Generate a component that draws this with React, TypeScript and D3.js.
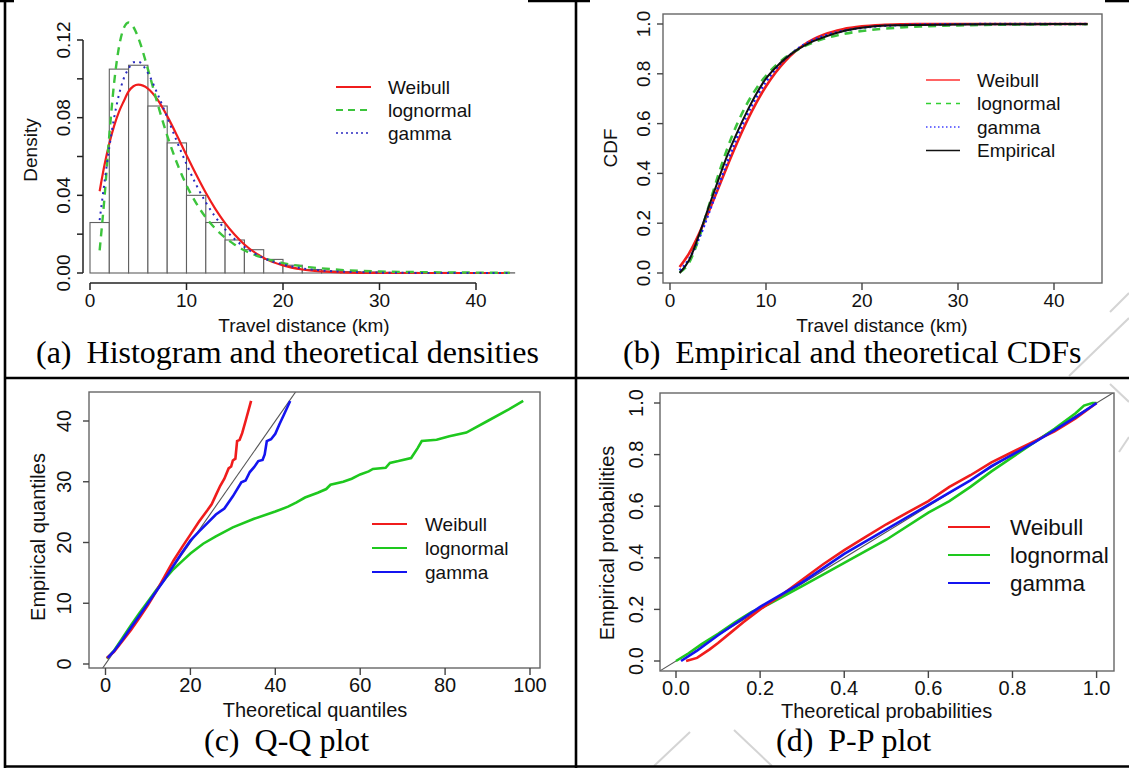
import React from "react";
import * as d3 from "d3";

const SANS = "'Liberation Sans', Arial, Helvetica, sans-serif";
const SERIF = "'Liberation Serif', 'Times New Roman', serif";

// ---------- (a) histogram + densities ----------
const histBreaks = [0, 2, 4, 6, 8, 10, 12, 14, 16, 18, 20, 22, 24, 26, 28, 30, 32, 34, 36, 38, 40, 42, 44];
const histDensity = [0.026, 0.105, 0.107, 0.086, 0.067, 0.040, 0.026, 0.017, 0.012, 0.007, 0.004, 0.0018, 0.001, 0.0007, 0.0005, 0.0003, 0.0003, 0.0002, 0.0003, 0.0001, 0.0001, 0.0001];
const densX = [1, 1.5, 2, 2.5, 3, 3.5, 4, 4.5, 5, 6, 7, 8, 9, 10, 11, 12, 13, 14, 15, 16, 18, 20, 22, 24, 26, 28, 30, 35, 40, 43.5];
const densWeibull = [0.0421, 0.0556, 0.0667, 0.0758, 0.0830, 0.0885, 0.0935, 0.0962, 0.0970, 0.0950, 0.0893, 0.0808, 0.0710, 0.0607, 0.0507, 0.0413, 0.0329, 0.0257, 0.0197, 0.0147, 0.0078, 0.0039, 0.0018, 0.0008, 0.0003, 0.0001, 0.00004, 0, 0, 0];
const densLognormal = [0.0117, 0.0388, 0.0708, 0.0979, 0.1163, 0.1261, 0.1290, 0.1267, 0.1212, 0.1050, 0.0872, 0.0708, 0.0568, 0.0452, 0.0360, 0.0286, 0.0228, 0.0182, 0.0146, 0.0117, 0.0077, 0.0051, 0.0034, 0.0024, 0.0016, 0.0011, 0.0008, 0.0004, 0.0002, 0.0001];
const densGamma = [0.0272, 0.0466, 0.0647, 0.0799, 0.0918, 0.1002, 0.1053, 0.1085, 0.1088, 0.1030, 0.0922, 0.0802, 0.0678, 0.0561, 0.0455, 0.0364, 0.0288, 0.0225, 0.0174, 0.0134, 0.0077, 0.0044, 0.0024, 0.0013, 0.0007, 0.0004, 0.0002, 0.00004, 0.00001, 0];
const densTicks = [0, 0.02, 0.04, 0.06, 0.08, 0.1, 0.12];
const densTickLabels = ["0.00", "", "0.04", "", "0.08", "", "0.12"];
const distTicks = [0, 10, 20, 30, 40];

// ---------- (b) CDFs ----------
const cdfX = [1, 2, 3, 4, 5, 6, 7, 8, 9, 10, 11, 12, 13, 14, 15, 16, 18, 20, 22, 24, 26, 28, 30, 35, 40, 43.5];
const cdfWeibull = [0.0243, 0.0795, 0.1551, 0.2433, 0.3376, 0.4326, 0.5239, 0.6084, 0.6841, 0.7498, 0.8054, 0.8514, 0.8884, 0.9176, 0.9402, 0.9573, 0.9793, 0.9905, 0.9959, 0.9984, 0.9994, 0.9998, 0.9999, 1, 1, 1];
const cdfLognormal = [0.0024, 0.0420, 0.1384, 0.2634, 0.3895, 0.5030, 0.5991, 0.6779, 0.7415, 0.7923, 0.8327, 0.8649, 0.8904, 0.9109, 0.9272, 0.9403, 0.9593, 0.9719, 0.9803, 0.9860, 0.9899, 0.9927, 0.9946, 0.9974, 0.9987, 0.9991];
const cdfGamma = [0.0109, 0.0571, 0.1362, 0.2356, 0.3428, 0.4482, 0.5457, 0.6319, 0.7059, 0.7679, 0.8187, 0.8597, 0.8923, 0.9180, 0.9370, 0.9520, 0.9720, 0.9845, 0.9919, 0.9956, 0.9977, 0.9988, 0.9994, 0.9999, 1, 1];
const cdfEmpirical = [0.0, 0.052, 0.150, 0.262, 0.370, 0.475, 0.565, 0.647, 0.720, 0.781, 0.825, 0.861, 0.890, 0.913, 0.932, 0.947, 0.971, 0.985, 0.993, 0.995, 0.996, 0.997, 0.998, 0.999, 0.9995, 1];
const probTicks = [0, 0.2, 0.4, 0.6, 0.8, 1];
const probTickLabels = ["0.0", "0.2", "0.4", "0.6", "0.8", "1.0"];

// ---------- (c) Q-Q ----------
const qqWeibull: [number, number][] = [[0.3, 1.0], [2, 2], [4, 3.8], [6, 5.6], [8, 7.6], [10, 9.7], [12, 12], [14, 14.5], [16, 17], [18, 19.2], [20, 21.3], [22, 23.4], [24, 25.3], [25, 26.3], [26, 27.8], [27, 29.3], [28, 30.5], [29, 32.2], [29.6, 32.5], [30, 33.5], [30.6, 33.8], [31, 36.7], [31.6, 36.9], [32.2, 38], [33, 40], [34.3, 43.3]];
const qqLognormal: [number, number][] = [[0.3, 0.9], [2, 2.2], [4, 4.3], [6, 6.4], [8, 8.4], [10, 10.3], [12, 12.2], [14, 14], [16, 15.6], [18, 16.9], [20, 18.2], [23, 19.8], [26, 21], [30, 22.5], [35, 23.9], [40, 25.1], [43, 25.9], [45, 26.6], [47, 27.4], [50, 28.2], [52, 28.8], [53, 29.5], [56, 30], [58, 30.5], [60, 31.2], [62, 31.7], [63, 32.1], [66, 32.3], [67, 33.1], [69, 33.4], [72, 33.9], [73.5, 35.5], [74.5, 36.7], [78, 36.9], [81, 37.5], [85, 38.1], [90, 40], [95, 41.9], [98.4, 43.3]];
const qqGamma: [number, number][] = [[0.5, 1], [2, 2.1], [4, 4], [6, 6], [8, 8], [10, 10], [12, 12], [14, 14], [16, 16.2], [18, 18.3], [20, 20.3], [22, 21.8], [24, 23.2], [26, 24.6], [28, 25.6], [30, 27.6], [32, 29.9], [33, 30.2], [34, 31.6], [35, 32.4], [36, 33.4], [37, 33.6], [37.5, 34.5], [38, 36.7], [39, 37], [40, 37.9], [41, 39.5], [42, 41], [43.5, 43.3]];
const qqTicksX = [0, 20, 40, 60, 80, 100];
const qqTicksY = [0, 10, 20, 30, 40];

// ---------- (d) P-P ----------
const ppWeibull: [number, number][] = [[0.024, 0], [0.05, 0.012], [0.08, 0.045], [0.1, 0.07], [0.13, 0.11], [0.16, 0.15], [0.2, 0.2], [0.25, 0.255], [0.3, 0.315], [0.35, 0.375], [0.4, 0.43], [0.45, 0.48], [0.5, 0.53], [0.55, 0.575], [0.6, 0.62], [0.65, 0.675], [0.7, 0.72], [0.75, 0.77], [0.8, 0.81], [0.85, 0.85], [0.9, 0.89], [0.95, 0.94], [1, 1]];
const ppLognormal: [number, number][] = [[0, 0], [0.03, 0.03], [0.06, 0.065], [0.1, 0.105], [0.14, 0.15], [0.18, 0.19], [0.22, 0.22], [0.3, 0.29], [0.4, 0.38], [0.5, 0.47], [0.6, 0.575], [0.65, 0.62], [0.7, 0.675], [0.75, 0.735], [0.8, 0.79], [0.85, 0.845], [0.9, 0.9], [0.95, 0.96], [0.97, 0.99], [0.99, 1], [1, 1]];
const ppGamma: [number, number][] = [[0.012, 0], [0.05, 0.04], [0.1, 0.1], [0.15, 0.155], [0.2, 0.21], [0.3, 0.305], [0.4, 0.415], [0.5, 0.51], [0.6, 0.605], [0.7, 0.7], [0.75, 0.755], [0.8, 0.8], [0.85, 0.845], [0.9, 0.895], [0.95, 0.945], [1, 1]];

const legendNames = ["Weibull", "lognormal", "gamma"];

const RED = "#f01c1c";
const GREEN_A = "#3cc43c";
const BLUE_A = "#2a2ac0";
const GREEN = "#1ec81e";
const BLUE = "#1414f0";

function RotText({ x, y, size, children }: any) {
  return (
    <text transform={`translate(${x + 0.36 * size},${y}) rotate(-90)`} textAnchor="middle" fontSize={size} fontFamily={SANS} fill="#111">
      {children}
    </text>
  );
}
function HText({ x, y, size, children, anchor = "middle" }: any) {
  return (
    <text x={x} y={y + 0.36 * size} textAnchor={anchor} fontSize={size} fontFamily={SANS} fill="#111">
      {children}
    </text>
  );
}

function PanelA() {
  const x = d3.scaleLinear().domain([0, 40]).range([90, 476]);
  const y = d3.scaleLinear().domain([0, 0.12]).range([273, 40]);
  const line = (vals: number[]) =>
    d3.line<number>().x((_, i) => x(densX[i])).y((d) => y(d)).curve(d3.curveMonotoneX)(vals) || "";
  const fs = 19;
  return (
    <g>
      {histDensity.map((d, i) => (
        <rect key={i} x={x(histBreaks[i])} y={y(d)} width={x(histBreaks[i + 1]) - x(histBreaks[i])} height={y(0) - y(d)} fill="white" stroke="#606060" strokeWidth={1.1} />
      ))}
      <path d={line(densWeibull)} fill="none" stroke={RED} strokeWidth={2.2} />
      <path d={line(densLognormal)} fill="none" stroke={GREEN_A} strokeWidth={2.4} strokeDasharray="8 6" />
      <path d={line(densGamma)} fill="none" stroke={BLUE_A} strokeWidth={2} strokeDasharray="2 4.5" />
      <line x1={83} x2={83} y1={y(0)} y2={y(0.12)} stroke="#222" strokeWidth={1.5} />
      {densTicks.map((t, i) => (
        <g key={i}>
          <line x1={77} x2={83} y1={y(t)} y2={y(t)} stroke="#222" strokeWidth={1.5} />
          {densTickLabels[i] && <RotText x={63} y={y(t)} size={fs}>{densTickLabels[i]}</RotText>}
        </g>
      ))}
      <RotText x={30} y={150} size={fs}>Density</RotText>
      <line x1={x(0)} x2={x(40)} y1={283} y2={283} stroke="#222" strokeWidth={1.5} />
      {distTicks.map((t) => (
        <g key={t}>
          <line x1={x(t)} x2={x(t)} y1={283} y2={290} stroke="#222" strokeWidth={1.5} />
          <HText x={x(t)} y={300} size={fs}>{t}</HText>
        </g>
      ))}
      <HText x={304} y={325} size={fs}>Travel distance (km)</HText>
      {legendNames.map((n, i) => (
        <g key={n}>
          <line x1={336} x2={371} y1={87 + i * 23} y2={87 + i * 23} stroke={[RED, GREEN_A, BLUE_A][i]} strokeWidth={i === 2 ? 1.6 : 2} strokeDasharray={["", "7 5", "2 3"][i]} />
          <HText x={388} y={87 + i * 23} size={fs} anchor="start">{n}</HText>
        </g>
      ))}
    </g>
  );
}

function PanelB() {
  const x = d3.scaleLinear().domain([0, 40]).range([670, 1054]);
  const y = d3.scaleLinear().domain([0, 1]).range([273, 24]);
  const line = (vals: number[]) =>
    d3.line<number>().x((_, i) => x(cdfX[i])).y((d) => y(d)).curve(d3.curveMonotoneX)(vals) || "";
  const fs = 19;
  return (
    <g>
      <path d={line(cdfWeibull)} fill="none" stroke={RED} strokeWidth={2.6} />
      <path d={line(cdfLognormal)} fill="none" stroke={GREEN_A} strokeWidth={2.6} strokeDasharray="8 6" />
      <path d={line(cdfGamma)} fill="none" stroke="#2020ff" strokeWidth={2.4} strokeDasharray="2 3" />
      <path d={line(cdfEmpirical)} fill="none" stroke="#111" strokeWidth={2} />
      <rect x={663} y={14} width={1102 - 663} height={283 - 14} fill="none" stroke="#666" strokeWidth={1.4} />
      {probTicks.map((t, i) => (
        <g key={i}>
          <line x1={657} x2={663} y1={y(t)} y2={y(t)} stroke="#444" strokeWidth={1.4} />
          <RotText x={643} y={y(t)} size={fs}>{probTickLabels[i]}</RotText>
        </g>
      ))}
      <RotText x={610} y={148} size={fs}>CDF</RotText>
      {distTicks.map((t) => (
        <g key={t}>
          <line x1={x(t)} x2={x(t)} y1={283} y2={290} stroke="#444" strokeWidth={1.4} />
          <HText x={x(t)} y={300} size={fs}>{t}</HText>
        </g>
      ))}
      <HText x={882} y={325} size={fs}>Travel distance (km)</HText>
      {[...legendNames, "Empirical"].map((n, i) => (
        <g key={n}>
          <line x1={926} x2={960} y1={80 + i * 23.5} y2={80 + i * 23.5} stroke={["#ff3030", "#30d030", "#4040ff", "#111"][i]} strokeWidth={1.5} strokeDasharray={["", "5 5", "1.5 2.5", ""][i]} />
          <HText x={977} y={80 + i * 23.5} size={fs} anchor="start">{n}</HText>
        </g>
      ))}
    </g>
  );
}

function PanelC() {
  const x = d3.scaleLinear().domain([0, 100]).range([105.5, 530]);
  const y = d3.scaleLinear().domain([0, 40]).range([664, 421]);
  const line = d3.line<[number, number]>().x((d) => x(d[0])).y((d) => y(d[1]));
  const fs = 20;
  const box = { x0: 89, x1: 540, y0: 392, y1: 668 };
  const lo = x.invert(box.x0), hi = x.invert(box.x1);
  return (
    <g>
      <defs>
        <clipPath id="clipC"><rect x={box.x0} y={box.y0} width={box.x1 - box.x0} height={box.y1 - box.y0} /></clipPath>
      </defs>
      <g clipPath="url(#clipC)">
        <line x1={x(lo)} y1={y(lo)} x2={x(hi)} y2={y(hi)} stroke="#555" strokeWidth={1.1} />
      </g>
      <path d={line(qqLognormal) || ""} fill="none" stroke={GREEN} strokeWidth={2.6} />
      <path d={line(qqWeibull) || ""} fill="none" stroke={RED} strokeWidth={2.6} />
      <path d={line(qqGamma) || ""} fill="none" stroke={BLUE} strokeWidth={2.6} />
      <rect x={box.x0} y={box.y0} width={box.x1 - box.x0} height={box.y1 - box.y0} fill="none" stroke="#666" strokeWidth={1.4} />
      {qqTicksY.map((t) => (
        <g key={t}>
          <line x1={83} x2={89} y1={y(t)} y2={y(t)} stroke="#444" strokeWidth={1.4} />
          <RotText x={64} y={y(t)} size={fs}>{t}</RotText>
        </g>
      ))}
      <RotText x={38} y={537} size={fs}>Empirical quantiles</RotText>
      {qqTicksX.map((t) => (
        <g key={t}>
          <line x1={x(t)} x2={x(t)} y1={668} y2={675} stroke="#444" strokeWidth={1.4} />
          <HText x={x(t)} y={685} size={fs}>{t}</HText>
        </g>
      ))}
      <HText x={315} y={710} size={fs}>Theoretical quantiles</HText>
      {legendNames.map((n, i) => (
        <g key={n}>
          <line x1={372} x2={407} y1={524 + i * 24} y2={524 + i * 24} stroke={[RED, GREEN, BLUE][i]} strokeWidth={2} />
          <HText x={425} y={524 + i * 24} size={19} anchor="start">{n}</HText>
        </g>
      ))}
    </g>
  );
}

function PanelD() {
  const x = d3.scaleLinear().domain([0, 1]).range([676, 1096.6]);
  const y = d3.scaleLinear().domain([0, 1]).range([661, 403]);
  const line = d3.line<[number, number]>().x((d) => x(d[0])).y((d) => y(d[1]));
  const fs = 20;
  const box = { x0: 660, x1: 1114, y0: 393, y1: 671 };
  const lo = x.invert(box.x0), hi = x.invert(box.x1);
  return (
    <g>
      <defs>
        <clipPath id="clipD"><rect x={box.x0} y={box.y0} width={box.x1 - box.x0} height={box.y1 - box.y0} /></clipPath>
      </defs>
      <g clipPath="url(#clipD)">
        <line x1={x(lo)} y1={y(lo)} x2={x(hi)} y2={y(hi)} stroke="#555" strokeWidth={1.1} />
      </g>
      <path d={line(ppLognormal) || ""} fill="none" stroke={GREEN} strokeWidth={2.6} />
      <path d={line(ppWeibull) || ""} fill="none" stroke={RED} strokeWidth={2.6} />
      <path d={line(ppGamma) || ""} fill="none" stroke={BLUE} strokeWidth={2.6} />
      <rect x={box.x0} y={box.y0} width={box.x1 - box.x0} height={box.y1 - box.y0} fill="none" stroke="#666" strokeWidth={1.4} />
      {probTicks.map((t, i) => (
        <g key={i}>
          <line x1={654} x2={660} y1={y(t)} y2={y(t)} stroke="#444" strokeWidth={1.4} />
          <RotText x={636} y={y(t)} size={fs}>{probTickLabels[i]}</RotText>
        </g>
      ))}
      <RotText x={607} y={543} size={fs}>Empirical probabilities</RotText>
      {probTicks.map((t, i) => (
        <g key={i}>
          <line x1={x(t)} x2={x(t)} y1={671} y2={678} stroke="#444" strokeWidth={1.4} />
          <HText x={x(t)} y={688} size={fs}>{probTickLabels[i]}</HText>
        </g>
      ))}
      <HText x={886.6} y={711} size={fs}>Theoretical probabilities</HText>
      {legendNames.map((n, i) => (
        <g key={n}>
          <line x1={948} x2={990} y1={527 + i * 28} y2={527 + i * 28} stroke={[RED, GREEN, BLUE][i]} strokeWidth={2.2} />
          <HText x={1010} y={527 + i * 28} size={22.5} anchor="start">{n}</HText>
        </g>
      ))}
    </g>
  );
}

function Caption({ x, y, tag, text }: any) {
  return (
    <text x={x} y={y} fontFamily={SERIF} fontSize={32} fill="#000">
      {tag}
      <tspan dx={15}>{text}</tspan>
    </text>
  );
}

export default function App() {
  return (
    <svg width={1129} height={769} style={{ position: "absolute", left: 0, top: 0, background: "white" }}>
      <rect x={0} y={0} width={1129} height={769} fill="white" />
      <g stroke="#d4d4d4" strokeWidth={2} fill="none">
        <line x1={1069} y1={376} x2={1129} y2={318} />
        <line x1={1110} y1={312} x2={1129} y2={293} />
        <line x1={1110} y1={384} x2={1129} y2={402} />
        <line x1={1119} y1={452} x2={1129} y2={437} />
        <line x1={654} y1={766} x2={690} y2={732} />
        <line x1={734} y1={730} x2={772} y2={766} />
      </g>
      <PanelA />
      <PanelB />
      <PanelC />
      <PanelD />
      <Caption x={36} y={363} tag="(a)" text="Histogram and theoretical densities" />
      <Caption x={623} y={363} tag="(b)" text="Empirical and theoretical CDFs" />
      <Caption x={204} y={751} tag="(c)" text="Q-Q plot" />
      <Caption x={776} y={751} tag="(d)" text="P-P plot" />
      <g stroke="#000" strokeWidth={2.6}>
        <line x1={5} y1={0} x2={5} y2={768} />
        <line x1={576} y1={0} x2={576} y2={768} />
        <line x1={4} y1={378} x2={1129} y2={378} />
        <line x1={4} y1={766.5} x2={1129} y2={766.5} />
        <line x1={0} y1={1} x2={14} y2={1} />
        <line x1={528} y1={1} x2={590} y2={1} />
        <line x1={1105} y1={1} x2={1129} y2={1} />
      </g>
    </svg>
  );
}
